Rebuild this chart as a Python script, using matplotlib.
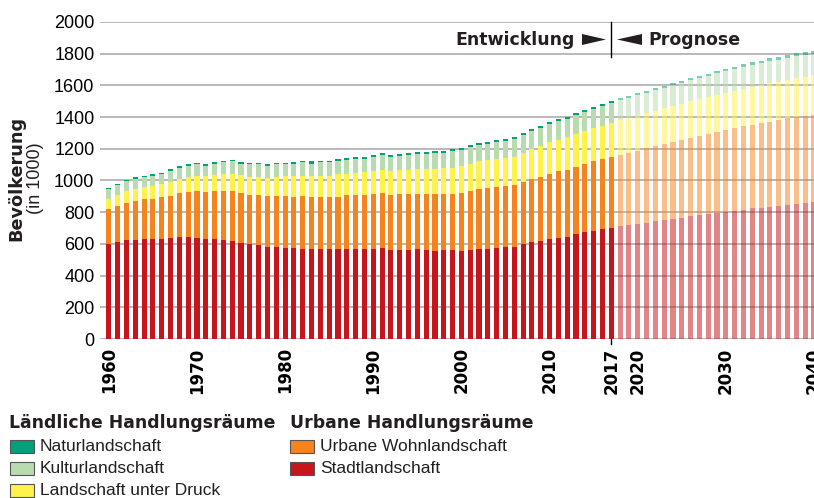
import numpy as np
import matplotlib.pyplot as plt
from matplotlib.patches import Rectangle, Polygon

years = np.arange(1960, 2041)
last_obs = 2017

# Bevölkerung in 1000 je Handlungsraum
stadt = [598, 611, 624, 624, 630, 630, 630, 636, 643, 643, 636, 630, 630, 624, 617, 604, 598, 592, 579, 579,
         573, 573, 566, 566, 566, 566, 567, 568, 568, 568, 568, 575, 562, 562, 562, 568, 562, 556, 562, 560,
         557, 564, 570, 570, 576, 583, 583, 602, 614, 621, 634, 640, 646, 663, 676, 682, 695, 701, 714, 720,
         727, 733, 746, 752, 759, 765, 778, 783, 789, 796, 802, 808, 815, 827, 827, 834, 840, 846, 853, 859,
         865]
urban = [223, 229, 235, 248, 254, 254, 267, 268, 280, 286, 299, 299, 305, 311, 318, 319, 312, 318, 325, 325,
         331, 324, 338, 331, 331, 331, 331, 338, 338, 338, 344, 343, 344, 350, 350, 344, 350, 356, 350, 355,
         363, 368, 375, 381, 382, 381, 387, 388, 395, 400, 406, 420, 420, 420, 426, 439, 439, 445, 445, 452,
         458, 471, 470, 477, 483, 489, 488, 495, 502, 507, 514, 521, 527, 521, 534, 533, 540, 546, 546, 546,
         546]
druck = [63, 70, 76, 76, 77, 83, 83, 89, 89, 95, 96, 102, 102, 108, 108, 114, 114, 114, 114, 120,
         127, 134, 127, 134, 134, 134, 140, 133, 140, 146, 146, 147, 152, 153, 153, 159, 159, 159, 165, 166,
         171, 172, 178, 178, 178, 178, 178, 184, 190, 197, 204, 197, 210, 210, 210, 210, 209, 217, 223, 222,
         222, 222, 223, 229, 229, 229, 234, 235, 235, 235, 235, 235, 234, 241, 241, 248, 241, 242, 247, 248,
         254]
kultur = [64, 64, 64, 64, 63, 64, 63, 70, 70, 70, 70, 63, 70, 71, 77, 70, 77, 77, 76, 77,
          70, 70, 83, 76, 83, 83, 83, 89, 89, 83, 89, 95, 89, 89, 95, 95, 95, 102, 96, 102,
          102, 108, 102, 102, 108, 108, 115, 114, 115, 115, 114, 120, 114, 120, 120, 121, 128, 127, 127, 127,
          134, 127, 133, 127, 133, 134, 134, 133, 133, 140, 140, 139, 140, 140, 139, 139, 139, 139, 140, 139,
          134]
natur = [7, 7, 7, 7, 7, 7, 7, 7, 7, 7, 7, 7, 7, 7, 7, 7, 7, 7, 7, 7,
         7, 13, 7, 13, 12, 6, 12, 13, 12, 12, 13, 13, 13, 12, 13, 13, 13, 13, 13, 13,
         13, 13, 12, 13, 13, 13, 13, 13, 12, 13, 13, 13, 13, 13, 13, 12, 12, 12, 12, 13,
         12, 13, 13, 13, 13, 13, 13, 13, 13, 13, 12, 13, 19, 19, 13, 19, 20, 19, 19, 19,
         19]

series = [stadt, urban, druck, kultur, natur]
names = ['Stadtlandschaft', 'Urbane Wohnlandschaft', 'Landschaft unter Druck',
         'Kulturlandschaft', 'Naturlandschaft']
colors = ['#c4161c', '#f5841f', '#fff24a', '#b8dcb0', '#00a07a']

tick_years = [1960, 1970, 1980, 1990, 2000, 2010, 2017, 2020, 2030, 2040]

heavy = 'DejaVu Sans'
light = 'Liberation Sans'
ink = '#231f20'
W, H = 814, 498

fig = plt.figure(figsize=(8.14, 4.98), dpi=100)
ax = fig.add_axes([100 / W, 1 - 339 / H, 714 / W, 317 / H])

hist = years <= last_obs
bottom = np.zeros(len(years))
for vals, col in zip(series, colors):
    vals = np.array(vals, dtype=float)
    ax.bar(years[hist], vals[hist], bottom=bottom[hist], width=0.58, color=col, zorder=2)
    ax.bar(years[~hist], vals[~hist], bottom=bottom[~hist], width=0.58, color=col, alpha=0.52, zorder=2)
    bottom += vals

ax.set_xlim(1959.0, 2039.95)
ax.set_ylim(0, 2000)
ax.set_yticks(np.arange(0, 2001, 200))
ax.set_yticklabels([str(v) for v in range(0, 2001, 200)], fontfamily=light, fontsize=13)
ax.set_xticks(tick_years)
ax.set_xticklabels([str(y) for y in tick_years], rotation=90, fontfamily=heavy,
                   fontweight='bold', fontsize=12)
ax.tick_params(axis='both', length=0)
ax.tick_params(axis='y', pad=4)
ax.tick_params(axis='x', pad=6)
ax.grid(axis='y', color='#a6a6a6', linewidth=1.1, zorder=0)
ax.set_axisbelow(True)
for s in ax.spines.values():
    s.set_visible(False)

# Trennlinie Entwicklung / Prognose
ax.plot([last_obs, last_obs], [1780, 2000], color='black', linewidth=1, zorder=3, clip_on=False)
ax.plot([last_obs, last_obs], [-30, 0], color='black', linewidth=1, zorder=3, clip_on=False)
fig.text(575 / W, 1 - 40 / H, 'Entwicklung', ha='right', va='center', fontfamily=heavy,
         fontweight='bold', fontsize=12.5, color=ink)
fig.text(648 / W, 1 - 40 / H, 'Prognose', ha='left', va='center', fontfamily=heavy,
         fontweight='bold', fontsize=12.5, color=ink)


def px(x, y):
    return (x / W, 1 - y / H)


fig.patches.append(Polygon([px(582, 34), px(582, 45), px(606, 39.5)], closed=True,
                           transform=fig.transFigure, facecolor=ink, edgecolor='none'))
fig.patches.append(Polygon([px(642, 34), px(642, 45), px(617, 39.5)], closed=True,
                           transform=fig.transFigure, facecolor=ink, edgecolor='none'))

fig.text(16 / W, 1 - 178 / H, 'Bevölkerung', rotation=90, ha='center', va='center',
         fontfamily=heavy, fontweight='bold', fontsize=12.7, color=ink)
fig.text(35 / W, 1 - 178 / H, '(in 1000)', rotation=90, ha='center', va='center',
         fontfamily=light, fontsize=13, color=ink)

# Legende
fig.text(9 / W, 1 - 423 / H, 'Ländliche Handlungsräume', ha='left', va='center',
         fontfamily=heavy, fontweight='bold', fontsize=12.4, color=ink)
fig.text(290 / W, 1 - 423 / H, 'Urbane Handlungsräume', ha='left', va='center',
         fontfamily=heavy, fontweight='bold', fontsize=12.4, color=ink)

legend_items = [(10, 446, colors[4], names[4]), (10, 468, colors[3], names[3]),
                (10, 490, colors[2], names[2]), (290, 446, colors[1], names[1]),
                (290, 468, colors[0], names[0])]
for lx, ly, col, name in legend_items:
    fig.patches.append(Rectangle(px(lx, ly + 6.5), 24 / W, 13 / H,
                                 transform=fig.transFigure, facecolor=col,
                                 edgecolor='#555555', linewidth=0.8))
    fig.text((lx + 30) / W, 1 - ly / H, name, ha='left', va='center',
             fontfamily=light, fontsize=12.5, color=ink)

fig.savefig('out.png', dpi=100)
